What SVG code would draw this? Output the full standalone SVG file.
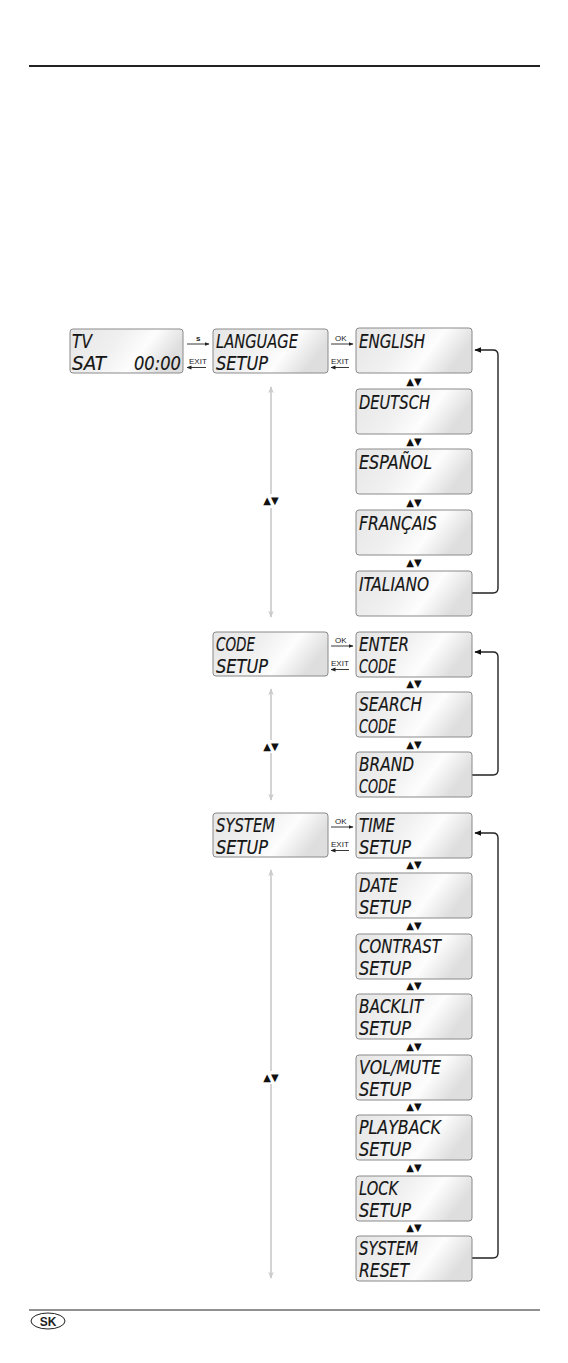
<svg xmlns="http://www.w3.org/2000/svg" width="568" height="1363" viewBox="0 0 568 1363">
<defs>
<linearGradient id="lcd" x1="0" y1="0" x2="1" y2="0.3">
<stop offset="0" stop-color="#e6e6e6"/>
<stop offset="0.45" stop-color="#f0f0f0"/>
<stop offset="0.72" stop-color="#fdfdfd"/>
<stop offset="1" stop-color="#dedede"/>
</linearGradient>
<marker id="ah" viewBox="0 0 10 10" refX="9" refY="5" markerWidth="7" markerHeight="7" markerUnits="userSpaceOnUse" orient="auto">
<path d="M0,1 L10,5 L0,9 Z" fill="#111"/>
</marker>
<marker id="sah" viewBox="0 0 10 10" refX="9" refY="5" markerWidth="5" markerHeight="5" markerUnits="userSpaceOnUse" orient="auto">
<path d="M0,1 L10,5 L0,9 Z" fill="#222"/>
</marker>
<marker id="gah" viewBox="0 0 10 10" refX="9" refY="5" markerWidth="9" markerHeight="7" markerUnits="userSpaceOnUse" orient="auto-start-reverse">
<path d="M0,1 L10,5 L0,9 L3,5 Z" fill="#cacaca"/>
</marker>
</defs>
<style>
.box{fill:url(#lcd);stroke:#8a8a8a;stroke-width:1}
.lcd{font-family:"DejaVu Sans Condensed","DejaVu Sans",sans-serif;font-style:italic;font-size:20px;fill:#151515;stroke:#151515;stroke-width:0.15}
.tri{font-family:"DejaVu Sans",sans-serif;font-size:10px;fill:#111;text-anchor:middle}
.small{font-family:"Liberation Sans",Arial,sans-serif;font-size:8px;fill:#222}
.fb{fill:none;stroke:#222;stroke-width:1.4}
.gray{fill:none;stroke:#d0d0d0;stroke-width:1.8}
.sm{fill:none;stroke:#222;stroke-width:0.9}
</style>
<rect width="568" height="1363" fill="#fff"/>
<line x1="29" y1="66" x2="540" y2="66" stroke="#222" stroke-width="2"/>
<line x1="29" y1="1310" x2="540" y2="1310" stroke="#222" stroke-width="1"/>
<g id="badge">
<ellipse cx="48" cy="1321" rx="17" ry="8" fill="#fff" stroke="#222" stroke-width="1"/>
<text x="48" y="1325.5" font-family="Liberation Sans,Arial,sans-serif" font-size="12" font-weight="bold" text-anchor="middle" fill="#222">SK</text>
</g>
<g id="connectors">
<line class="gray" x1="271" y1="387" x2="271" y2="494" marker-start="url(#gah)"/>
<line class="gray" x1="271" y1="508" x2="271" y2="617" marker-end="url(#gah)"/>
<text class="tri" x="271" y="504">▲▼</text>
<line class="gray" x1="271" y1="689" x2="271" y2="740" marker-start="url(#gah)"/>
<line class="gray" x1="271" y1="753" x2="271" y2="800" marker-end="url(#gah)"/>
<text class="tri" x="271" y="750">▲▼</text>
<line class="gray" x1="271" y1="870" x2="271" y2="1071" marker-start="url(#gah)"/>
<line class="gray" x1="271" y1="1084" x2="271" y2="1278" marker-end="url(#gah)"/>
<text class="tri" x="271" y="1081">▲▼</text>
<text class="small" x="196" y="341" font-weight="bold">s</text>
<line class="sm" x1="187" y1="344" x2="209" y2="344" marker-end="url(#sah)"/>
<text class="small" x="189" y="364">EXIT</text>
<line class="sm" x1="206" y1="367.5" x2="187" y2="367.5" marker-end="url(#sah)"/>
<text class="small" x="335" y="341">OK</text>
<line class="sm" x1="331" y1="344" x2="353" y2="344" marker-end="url(#sah)"/>
<text class="small" x="331" y="364">EXIT</text>
<line class="sm" x1="349" y1="367.5" x2="331" y2="367.5" marker-end="url(#sah)"/>
<text class="small" x="335" y="643">OK</text>
<line class="sm" x1="331" y1="646" x2="353" y2="646" marker-end="url(#sah)"/>
<text class="small" x="331" y="666">EXIT</text>
<line class="sm" x1="349" y1="669.5" x2="331" y2="669.5" marker-end="url(#sah)"/>
<text class="small" x="335" y="824">OK</text>
<line class="sm" x1="331" y1="827" x2="353" y2="827" marker-end="url(#sah)"/>
<text class="small" x="331" y="847">EXIT</text>
<line class="sm" x1="349" y1="850.5" x2="331" y2="850.5" marker-end="url(#sah)"/>
<path class="fb" d="M472,593 H493 Q498,593 498,588 V355 Q498,350 493,350 H475" marker-end="url(#ah)"/>
<path class="fb" d="M472,775 H493 Q498,775 498,770 V657 Q498,652 493,652 H475" marker-end="url(#ah)"/>
<path class="fb" d="M472,1258 H493 Q498,1258 498,1253 V838 Q498,833 493,833 H475" marker-end="url(#ah)"/>
<text class="tri" x="414" y="385">▲▼</text>
<text class="tri" x="414" y="445">▲▼</text>
<text class="tri" x="414" y="506">▲▼</text>
<text class="tri" x="414" y="566">▲▼</text>
<text class="tri" x="414" y="687">▲▼</text>
<text class="tri" x="414" y="748">▲▼</text>
<text class="tri" x="414" y="868">▲▼</text>
<text class="tri" x="414" y="929">▲▼</text>
<text class="tri" x="414" y="989">▲▼</text>
<text class="tri" x="414" y="1050">▲▼</text>
<text class="tri" x="414" y="1110">▲▼</text>
<text class="tri" x="414" y="1171">▲▼</text>
<text class="tri" x="414" y="1231">▲▼</text>
</g>
<g id="tv">
<rect class="box" x="70" y="329" width="113" height="44" rx="3"/>
<text class="lcd" x="72" y="348" textLength="20" lengthAdjust="spacingAndGlyphs">TV</text>
<text class="lcd" x="72" y="370" textLength="34" lengthAdjust="spacingAndGlyphs">SAT</text>
<text class="lcd" x="134" y="370" textLength="47" lengthAdjust="spacingAndGlyphs">00:00</text>
</g>
<g id="language-setup">
<rect class="box" x="213" y="329" width="115" height="44" rx="3"/>
<text class="lcd" x="216" y="348" textLength="82" lengthAdjust="spacingAndGlyphs">LANGUAGE</text>
<text class="lcd" x="216" y="370" textLength="52" lengthAdjust="spacingAndGlyphs">SETUP</text>
</g>
<g id="english">
<rect class="box" x="356" y="328" width="116" height="45" rx="3"/>
<text class="lcd" x="359" y="348" textLength="66" lengthAdjust="spacingAndGlyphs">ENGLISH</text>
</g>
<g id="deutsch">
<rect class="box" x="356" y="389" width="116" height="45" rx="3"/>
<text class="lcd" x="359" y="409" textLength="71" lengthAdjust="spacingAndGlyphs">DEUTSCH</text>
</g>
<g id="espanol">
<rect class="box" x="356" y="449" width="116" height="45" rx="3"/>
<text class="lcd" x="359" y="469" textLength="73" lengthAdjust="spacingAndGlyphs">ESPAÑOL</text>
</g>
<g id="francais">
<rect class="box" x="356" y="510" width="116" height="45" rx="3"/>
<text class="lcd" x="359" y="530" textLength="78" lengthAdjust="spacingAndGlyphs">FRANÇAIS</text>
</g>
<g id="italiano">
<rect class="box" x="356" y="571" width="116" height="45" rx="3"/>
<text class="lcd" x="359" y="591" textLength="70" lengthAdjust="spacingAndGlyphs">ITALIANO</text>
</g>
<g id="code-setup">
<rect class="box" x="213" y="632" width="115" height="44" rx="3"/>
<text class="lcd" x="216" y="651" textLength="39" lengthAdjust="spacingAndGlyphs">CODE</text>
<text class="lcd" x="216" y="673" textLength="52" lengthAdjust="spacingAndGlyphs">SETUP</text>
</g>
<g id="enter-code">
<rect class="box" x="356" y="632" width="116" height="45" rx="3"/>
<text class="lcd" x="359" y="651" textLength="50" lengthAdjust="spacingAndGlyphs">ENTER</text>
<text class="lcd" x="359" y="673" textLength="37" lengthAdjust="spacingAndGlyphs">CODE</text>
</g>
<g id="search-code">
<rect class="box" x="356" y="692" width="116" height="45" rx="3"/>
<text class="lcd" x="359" y="711" textLength="63" lengthAdjust="spacingAndGlyphs">SEARCH</text>
<text class="lcd" x="359" y="733" textLength="37" lengthAdjust="spacingAndGlyphs">CODE</text>
</g>
<g id="brand-code">
<rect class="box" x="356" y="752" width="116" height="45" rx="3"/>
<text class="lcd" x="359" y="771" textLength="55" lengthAdjust="spacingAndGlyphs">BRAND</text>
<text class="lcd" x="359" y="793" textLength="37" lengthAdjust="spacingAndGlyphs">CODE</text>
</g>
<g id="system-setup">
<rect class="box" x="213" y="813" width="115" height="44" rx="3"/>
<text class="lcd" x="216" y="832" textLength="59" lengthAdjust="spacingAndGlyphs">SYSTEM</text>
<text class="lcd" x="216" y="854" textLength="52" lengthAdjust="spacingAndGlyphs">SETUP</text>
</g>
<g id="time-setup">
<rect class="box" x="356" y="813" width="116" height="45" rx="3"/>
<text class="lcd" x="359" y="832" textLength="36" lengthAdjust="spacingAndGlyphs">TIME</text>
<text class="lcd" x="359" y="854" textLength="52" lengthAdjust="spacingAndGlyphs">SETUP</text>
</g>
<g id="date-setup">
<rect class="box" x="356" y="873" width="116" height="45" rx="3"/>
<text class="lcd" x="359" y="892" textLength="39" lengthAdjust="spacingAndGlyphs">DATE</text>
<text class="lcd" x="359" y="914" textLength="52" lengthAdjust="spacingAndGlyphs">SETUP</text>
</g>
<g id="contrast-setup">
<rect class="box" x="356" y="934" width="116" height="45" rx="3"/>
<text class="lcd" x="359" y="953" textLength="82" lengthAdjust="spacingAndGlyphs">CONTRAST</text>
<text class="lcd" x="359" y="975" textLength="52" lengthAdjust="spacingAndGlyphs">SETUP</text>
</g>
<g id="backlit-setup">
<rect class="box" x="356" y="994" width="116" height="45" rx="3"/>
<text class="lcd" x="359" y="1013" textLength="64" lengthAdjust="spacingAndGlyphs">BACKLIT</text>
<text class="lcd" x="359" y="1035" textLength="52" lengthAdjust="spacingAndGlyphs">SETUP</text>
</g>
<g id="volmute-setup">
<rect class="box" x="356" y="1055" width="116" height="45" rx="3"/>
<text class="lcd" x="359" y="1074" textLength="82" lengthAdjust="spacingAndGlyphs">VOL/MUTE</text>
<text class="lcd" x="359" y="1096" textLength="52" lengthAdjust="spacingAndGlyphs">SETUP</text>
</g>
<g id="playback-setup">
<rect class="box" x="356" y="1115" width="116" height="45" rx="3"/>
<text class="lcd" x="359" y="1134" textLength="82" lengthAdjust="spacingAndGlyphs">PLAYBACK</text>
<text class="lcd" x="359" y="1156" textLength="52" lengthAdjust="spacingAndGlyphs">SETUP</text>
</g>
<g id="lock-setup">
<rect class="box" x="356" y="1176" width="116" height="45" rx="3"/>
<text class="lcd" x="359" y="1195" textLength="39" lengthAdjust="spacingAndGlyphs">LOCK</text>
<text class="lcd" x="359" y="1217" textLength="52" lengthAdjust="spacingAndGlyphs">SETUP</text>
</g>
<g id="system-reset">
<rect class="box" x="356" y="1236" width="116" height="45" rx="3"/>
<text class="lcd" x="359" y="1255" textLength="59" lengthAdjust="spacingAndGlyphs">SYSTEM</text>
<text class="lcd" x="359" y="1277" textLength="50" lengthAdjust="spacingAndGlyphs">RESET</text>
</g>
</svg>
